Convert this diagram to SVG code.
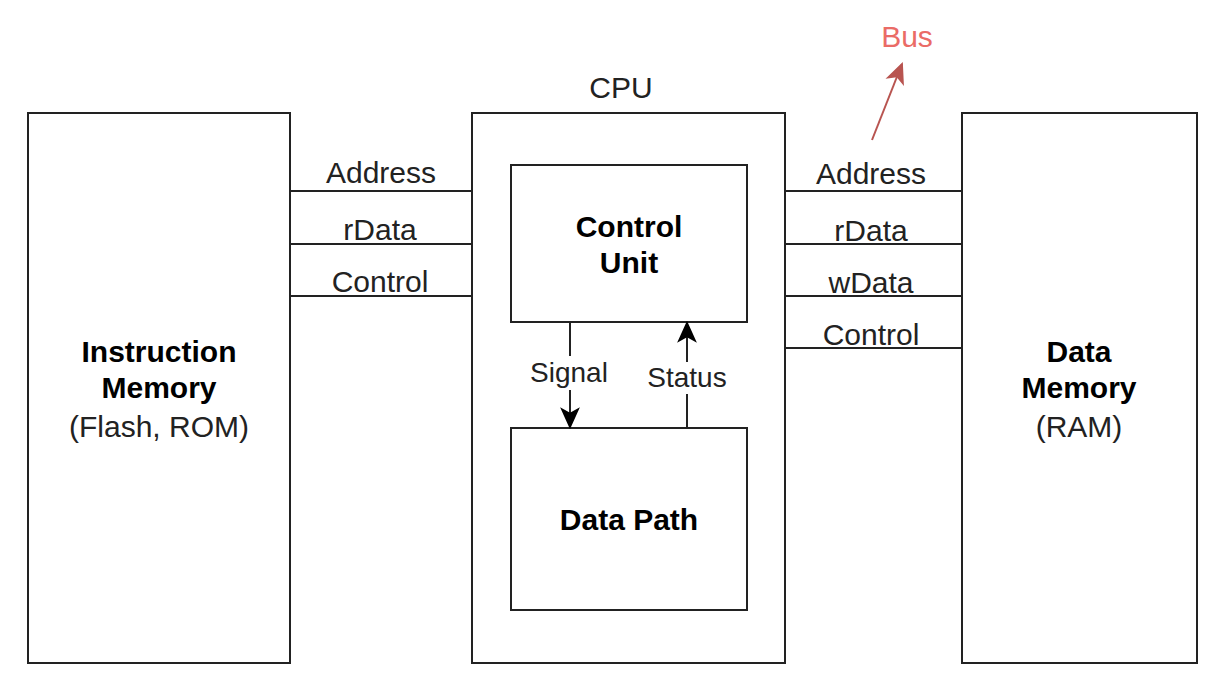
<svg xmlns="http://www.w3.org/2000/svg" width="1219" height="685" viewBox="0 0 1219 685">
  <style>
    .box { fill: #ffffff; stroke: #222222; stroke-width: 2; }
    .wire { stroke: #222222; stroke-width: 2; fill: none; }
    .lbl { font-family: "Liberation Sans", Arial, sans-serif; font-size: 30px; fill: #222222; text-anchor: middle; }
    .small { font-size: 28px; }
    .bold { font-weight: bold; fill: #000000; }
    .bus { fill: #EA6B66; }
  </style>
  <defs>
    <marker id="arrow" viewBox="0 0 20 20" refX="18" refY="10" markerWidth="11" markerHeight="11" markerUnits="strokeWidth" orient="auto">
      <path d="M0,1 L20,10 L0,19 L5,10 Z" fill="#000000"/>
    </marker>
    <marker id="arrowRed" viewBox="0 0 20 20" refX="18" refY="10" markerWidth="11" markerHeight="11" markerUnits="strokeWidth" orient="auto">
      <path d="M0,1 L20,10 L0,19 L5,10 Z" fill="#B85450"/>
    </marker>
  </defs>

  <rect width="1219" height="685" fill="#ffffff"/>

  <!-- Instruction memory -->
  <g id="instruction-memory">
    <rect class="box" x="28" y="113" width="262" height="550"/>
    <text class="lbl bold" x="159" y="362">Instruction</text>
    <text class="lbl bold" x="159" y="398">Memory</text>
    <text class="lbl" x="159" y="437">(Flash, ROM)</text>
  </g>

  <!-- CPU -->
  <g id="cpu">
    <rect class="box" x="472" y="113" width="313" height="550"/>
    <text class="lbl" x="621" y="98">CPU</text>
  </g>

  <!-- Control unit -->
  <g id="control-unit">
    <rect class="box" x="511" y="165" width="236" height="157"/>
    <text class="lbl bold" x="629" y="237">Control</text>
    <text class="lbl bold" x="629" y="273">Unit</text>
  </g>

  <!-- Data path -->
  <g id="data-path">
    <rect class="box" x="511" y="428" width="236" height="182"/>
    <text class="lbl bold" x="629" y="530">Data Path</text>
  </g>

  <!-- Data memory -->
  <g id="data-memory">
    <rect class="box" x="962" y="113" width="235" height="550"/>
    <text class="lbl bold" x="1079" y="362">Data</text>
    <text class="lbl bold" x="1079" y="398">Memory</text>
    <text class="lbl" x="1079" y="437">(RAM)</text>
  </g>

  <!-- Bus annotation -->
  <g id="bus-label">
    <text class="lbl bus" x="907" y="47">Bus</text>
  </g>

  <g id="connectors">
    <!-- instruction memory bus -->
    <line class="wire" x1="290" y1="191" x2="472" y2="191"/>
    <line class="wire" x1="290" y1="244" x2="472" y2="244"/>
    <line class="wire" x1="290" y1="296" x2="472" y2="296"/>
    <text class="lbl" x="381" y="183">Address</text>
    <text class="lbl" x="380" y="240">rData</text>
    <text class="lbl" x="380" y="292">Control</text>

    <!-- data memory bus -->
    <line class="wire" x1="785" y1="191" x2="962" y2="191"/>
    <line class="wire" x1="785" y1="244" x2="962" y2="244"/>
    <line class="wire" x1="785" y1="296" x2="962" y2="296"/>
    <line class="wire" x1="785" y1="348" x2="962" y2="348"/>
    <text class="lbl" x="871" y="184">Address</text>
    <text class="lbl" x="871" y="241">rData</text>
    <text class="lbl" x="871" y="293">wData</text>
    <text class="lbl" x="871" y="345">Control</text>

    <!-- control unit to data path -->
    <line class="wire" x1="570" y1="322" x2="570" y2="427" marker-end="url(#arrow)"/>
    <rect x="525" y="356" width="90" height="34" fill="#ffffff"/>
    <text class="lbl small" x="569" y="382">Signal</text>

    <!-- data path to control unit -->
    <line class="wire" x1="687" y1="428" x2="687" y2="323" marker-end="url(#arrow)"/>
    <rect x="643" y="362" width="88" height="32" fill="#ffffff"/>
    <text class="lbl small" x="687" y="387">Status</text>

    <!-- bus pointer -->
    <line x1="872" y1="140" x2="902" y2="64" stroke="#B85450" stroke-width="2" marker-end="url(#arrowRed)"/>
  </g>
</svg>
